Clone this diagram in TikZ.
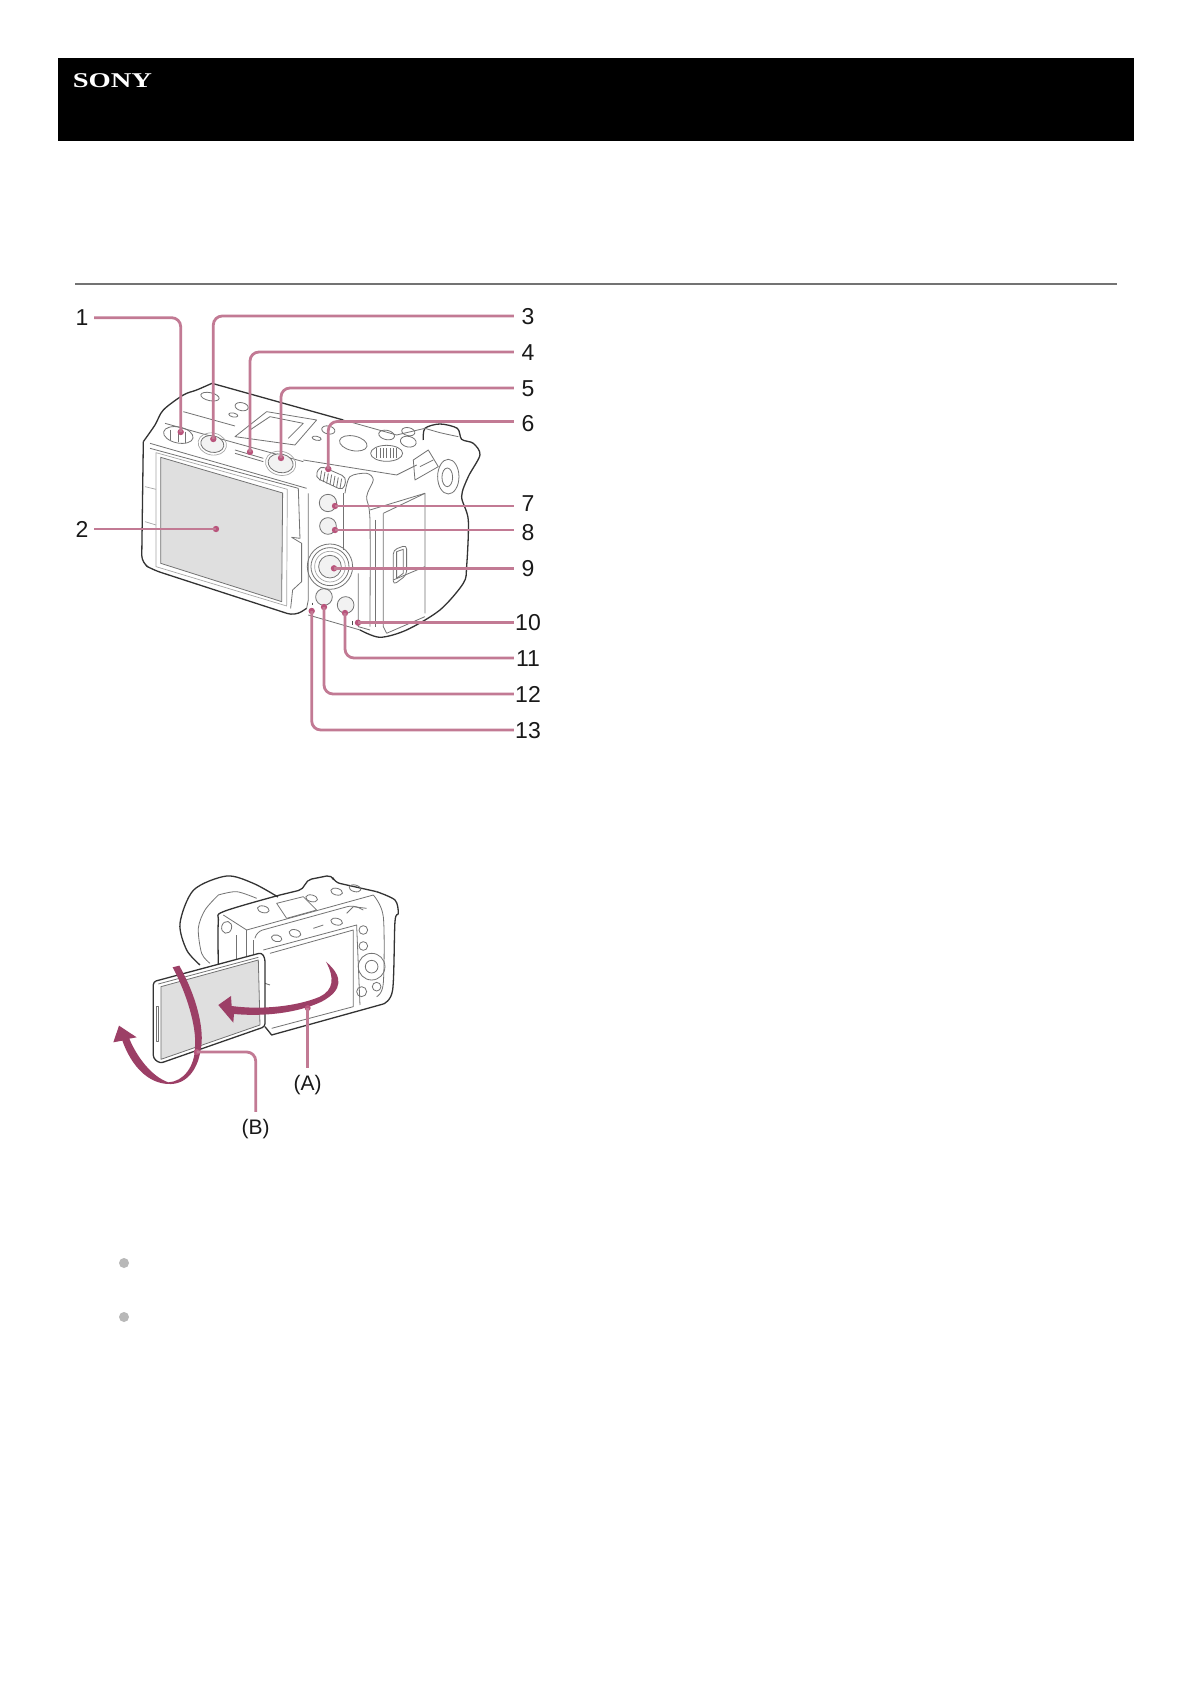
\documentclass[tikz,border=0pt]{standalone}
\usepackage{fontspec}
\setmainfont{Liberation Sans}
\newfontfamily\logofont{Liberation Serif}
\definecolor{leadcol}{HTML}{C27A94}
\definecolor{dotcol}{HTML}{B9557C}
\definecolor{arrcol}{HTML}{9C3F66}
\definecolor{scrcol}{HTML}{DFDFDF}
\tikzset{
	numlabel/.style={font=\fontsize{23}{23}\selectfont, text=black!90, inner sep=0pt, text height=16pt, text depth=0pt, minimum width=28pt, align=center},
	letlabel/.style={font=\fontsize{21}{21}\selectfont, text=black!90, inner sep=0pt, minimum height=34pt},
	leader/.style={draw=leadcol, line width=2.8pt, rounded corners=9pt},
	camout/.style={draw=black!80, line width=1.3pt, line join=round},
	camin/.style={draw=black!55, line width=0.8pt, line join=round},
	camgray/.style={draw=black!35, line width=0.7pt, line join=round},
	swing/.style={fill=arrcol, draw=none}
}
\begin{document}
\begin{tikzpicture}[x=1pt,y=-1pt]
\useasboundingbox (0,0) rectangle (1190,1684);
\fill[white] (0,0) rectangle (1190,1684);

% header
\node (header) [fill=black, anchor=north west, minimum width=1076pt, minimum height=83pt, inner sep=0pt] at (58,58) {};
\node (logo) [text=white, anchor=west, inner sep=0pt, xscale=1.36, font=\logofont\bfseries\fontsize{21}{21}\selectfont] at (72.5,81) {SONY};
\draw[black!55, line width=1.4pt] (75,284) -- (1117,284);

% first camera, back view
\begin{scope}[shift={(50pt,-280pt)},x=0.3333pt,y=-0.3333pt]
\fill[scrcol] (332,532) -- (698,639) -- (695,965) -- (332,850) -- cycle;
\draw[camin] (332,532) -- (698,639) -- (695,965) -- (332,850) -- cycle;
\draw[camgray] (318,518) -- (712,628) -- (710,978) -- (318,860) -- cycle;
\draw[camin] (300,505) -- (745,625) -- (750,775) -- (725,772);
\draw[camin] (725,772) -- (755,790) -- (755,905) -- (728,930) -- (722,985);
\draw[camgray] (285,620) -- (318,628);
\draw[camgray] (285,725) -- (318,735);
% outline
\draw[camout] plot[smooth] coordinates {(486,310) (440,330) (400,345) (340,390) (315,435) (280,485)};
\draw[camout,rounded corners=8pt] (280,485) -- (275,850) -- (310,870) -- (735,1008) -- (770,985);
\draw[camin] (775,640) -- (775,960) -- (770,985);
\draw[camout] (486,310) -- (880,420);
\draw[camin] (775,1005) -- (930,1050);
\draw[camout] plot[smooth] coordinates {(930,1050) (990,1072) (1070,1050) (1170,990) (1240,910) (1250,860) (1255,720) (1235,650) (1255,590) (1290,525) (1270,490) (1235,478) (1222,445) (1170,432) (1125,445) (1120,480)};
% top plate
\draw[camin] (345,430) -- (560,490) -- (760,545);
\draw[camin] (400,395) -- (555,438);
\draw[camin] (880,420) -- (1040,465) -- (1125,445);
\draw[camin] (555,470) -- (650,395) -- (800,420) -- (735,495) -- cycle;
\draw[camin] (600,450) -- (660,410) -- (760,430) -- (715,475);
\draw[camin] (760,540) -- (1040,585) -- (1100,555);
\draw[camin] (300,490) -- (770,625);
\foreach \x/\y/\a/\b in {480/350/28/12,575/380/20/12,550/405/14/6,835/450/20/12,800/475/14/6,910/490/42/22,1010/465/24/14,1075/485/24/16,1075/455/20/12}
	\draw[camin, rotate around={-12:(\x,\y)}] (\x,\y) ellipse [x radius=\a, y radius=\b];
\draw[camin] (1010,520) ellipse [x radius=48, y radius=24];
\foreach \t in {-30,-20,...,30}
	\draw[camin] (1010+\t,505) -- (1010+\t,535);
% grip and eyepiece
\draw[camin] plot[smooth] coordinates {(1125,445) (1170,458) (1225,470)};
\draw[camin] (1090,540) -- (1135,510) -- (1165,560) -- (1095,600) -- cycle;
\draw[camin] (1110,560) -- (1150,540);
\draw[camin] (1195,590) ellipse [x radius=32, y radius=52];
\draw[camin] (1192,592) ellipse [x radius=16, y radius=28];
\draw[camin] plot[smooth] coordinates {(885,640) (900,590) (950,580) (970,600) (950,650) (960,720) (960,1040)};
\draw[camin] (975,720) -- (975,1040);
\draw[camin] (1000,700) -- (1125,640) -- (1125,1000);
\draw[camin] (1000,700) -- (1000,1040) -- (1010,1060);
\draw[camin] (1010,1060) -- (1125,1010);
\draw[camin] (960,690) -- (1125,640);
\draw[camin,rounded corners=4pt] (1030,810) -- (1070,795) -- (1070,885) -- (1030,915) -- cycle;
\draw[camin] (1040,815) -- (1060,808) -- (1060,880) -- (1040,895) -- cycle;
\draw[camin] (1030,900) -- (1125,860);
\draw[camin] (880,640) -- (880,810);
\draw[camin] (925,880) -- (925,1040) -- (960,1050);
% rear buttons
\draw[camin, rotate around={-12:(385,465)}] (385,465) ellipse [x radius=45, y radius=24];
\draw[camin] (360,450) -- (360,480) (385,452) -- (385,485) (405,455) -- (405,488);
\foreach \x/\y/\a/\b in {487/492/35/25,692/550/38/28}{
	\draw[camin, fill=black!5, rotate around={-12:(\x,\y)}] (\x,\y) ellipse [x radius=\a, y radius=\b];
	\draw[camgray, rotate around={-12:(\x,\y)}] (\x,\y) ellipse [x radius=\a+8, y radius=\b+8];
}
\draw[camin] (555,510) -- (640,535) (555,520) -- (640,545);
\foreach \x/\y/\r in {834/669/26,834/738/25,822/951/25,887/975/25}
	\draw[camin, fill=black!5] (\x,\y) circle [radius=\r];
\draw[camin] (840,860) circle [radius=68];
\draw[camin] (840,860) circle [radius=57];
\draw[camin, fill=black!5] (840,860) circle [radius=34];
\draw[camgray] (840,860) circle [radius=46];
% small marks beside the callouts
\draw[black!70, line width=1pt] (909,1023) -- (909,1035);
\draw[black!70, line width=1pt] (788,968) -- (788,974);
% rear dial
\draw[camin,rounded corners=5pt] (795,592) -- (810,557) -- (890,592) -- (880,632) -- cycle;
\foreach \t in {0,10,...,60}
	\draw[camin] (815+\t,572+0.4*\t) -- (810+\t,602+0.4*\t);
\end{scope}

% callouts of the first camera
\foreach \n/\x/\y in {1/180.7/432,2/216/529,3/213.3/439,4/250/452,5/281/458,6/328.3/469,7/335/506,8/335/530,9/334/568.3,10/358/622.7,11/345/613,12/324/607,13/311.7/611}{
	\coordinate (pt\n) at (\x,\y);
	\fill[dotcol] (pt\n) circle (3.2);
}
\node (lbl1) [numlabel, minimum width=24pt] at (82,317.7) {1};
\node (lbl2) [numlabel, minimum width=24pt] at (82,529) {2};
\foreach \n/\y in {3/316,4/352,5/388,6/423.5,7/503,8/532.5,9/568.3,10/622.7,11/658,12/694,13/730}
	\node (lbl\n) [numlabel] at (528,\y) {\n};
\foreach \n in {1}
	\draw[leader] (lbl\n.east) -| (pt\n);
\draw[leader] (lbl2.east) -- (pt2);
\foreach \n in {3,4,5,11,12,13}
	\draw[leader] (lbl\n.west) -| (pt\n);
\draw[leader] ([yshift=2pt]lbl6.west) -| (pt6);
\foreach \n in {7,8,9,10}
	\draw[leader] (lbl\n.west |- pt\n) -- (pt\n);

% second camera, screen swung out
\begin{scope}[shift={(90pt,-850pt)},x=0.3333pt,y=-0.3333pt]
\draw[camout] plot[smooth] coordinates {(330,345) (290,300) (270,220) (311,120) (410,78) (490,100) (564,141)};
\draw[camin] plot[smooth] coordinates {(385,135) (345,180) (325,235) (335,310) (360,340)};
\draw[camin] plot[smooth] coordinates {(385,135) (440,125) (500,145)};
\draw[camout] plot[smooth] coordinates {(385,345) (385,215) (400,185) (570,135)};
\draw[camout,rounded corners=5pt] (570,135) -- (640,118) -- (650,90) -- (725,75) -- (735,97) -- (860,125);
\draw[camout] plot[smooth] coordinates {(860,125) (915,150) (925,190) (915,215) (908,420) (880,462)};
\draw[camout] (880,462) -- (545,555) -- (525,530);
% top plate and rear frame
\draw[camin,rounded corners=6pt] (495,265) -- (500,245) -- (790,165) -- (820,180);
\draw[camin] (400,195) -- (470,240) -- (850,135);
\draw[camin] (490,270) -- (490,330);
\draw[camin] (438,255) -- (438,345);
\draw[camin] (470,240) -- (470,330);
\draw[camin] (560,160) -- (640,140) -- (680,180) -- (590,205) -- cycle;
\draw[camin] plot[smooth] coordinates {(850,135) (880,200) (880,400) (860,440)};
\draw[camin] (540,310) -- (790,240) -- (790,470) -- (545,535);
\draw[camin] (520,300) -- (800,225) -- (810,465);
\draw[camin] (525,400) -- (540,405);
\foreach \x/\y/\a/\b in {560/265/16/10,615/250/18/11,740/215/18/10,520/178/18/10,665/145/18/10,740/125/18/10,795/115/18/10,410/232/15/18}
	\draw[camin, rotate around={-14:(\x,\y)}] (\x,\y) ellipse [x radius=\a, y radius=\b];
\draw[camin] (670,235) -- (700,225);
\draw[camin] (770,190) -- (790,170) -- (830,175);
\foreach \x/\y/\r in {820/240/13,820/288/13,815/425/15,860/410/13}
	\draw[camin] (\x,\y) circle [radius=\r];
\draw[camin] (845,350) circle [radius=40];
\draw[camin] (845,350) circle [radius=19];
% swung screen
\draw[camout,fill=white,rounded corners=3pt] (190,395) -- (515,308) -- (525,325) -- (525,530) -- (210,640) -- (190,625) -- cycle;
\fill[scrcol] (213,410) -- (505,330) -- (510,525) -- (213,628) -- cycle;
\draw[camin] (205,402) -- (505,322);
\draw[camin] (213,410) -- (505,330) -- (510,525) -- (213,628) -- cycle;
\draw[camin] (198,470) -- (198,575) -- (205,575) -- (205,470) -- cycle;
% swing arrows
\fill[swing] (708,335) .. controls (760,380) and (760,420) .. (695,455) .. controls (620,490) and (520,500) .. (432,492) -- (430,518) -- (385,465) -- (423,438) -- (425,468) .. controls (510,480) and (620,470) .. (690,440) .. controls (730,420) and (735,385) .. (708,335) -- cycle;
\fill[swing] (248,352) -- (268,347) .. controls (320,440) and (345,540) .. (332,600) .. controls (322,665) and (285,705) .. (235,702) .. controls (175,700) and (125,650) .. (97,572) -- (70,577) -- (87,527) -- (140,562) -- (118,566) .. controls (140,620) and (185,680) .. (235,697) .. controls (280,695) and (315,650) .. (315,590) .. controls (320,530) and (290,430) .. (248,352) -- cycle;
\end{scope}

% callouts of the second camera
\coordinate (ptA) at (307.7,1008);
\coordinate (ptB) at (196.7,1052);
\fill[dotcol] (ptA) circle (3);
\fill[dotcol] (ptB) circle (3);
\node (lblA) [letlabel] at (307.7,1085) {(A)};
\node (lblB) [letlabel] at (255.7,1129) {(B)};
\draw[leader] (ptA) -- (lblA.north);
\draw[leader] (ptB) -| (lblB.north);

% bullets
\fill[black!28] (124,1263) circle (5);
\fill[black!28] (124,1317) circle (5);
\end{tikzpicture}
\end{document}
